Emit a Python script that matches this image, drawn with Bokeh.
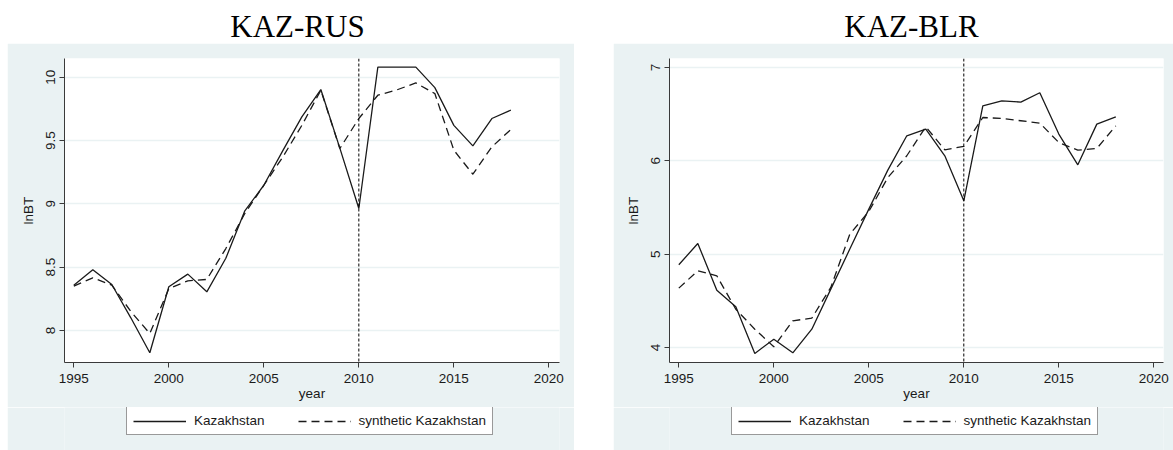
from bokeh.plotting import figure
from bokeh.models import Span, Legend, LegendItem, FixedTicker, Range1d, Spacer
from bokeh.layouts import row, column
from bokeh.embed import file_html
from bokeh.resources import INLINE
from bokeh.core.properties import value

# ---------------- data ----------------
years = list(range(1995, 2019))

rus_kazakhstan = [8.358, 8.48, 8.363, 8.10, 7.824, 8.345, 8.445, 8.305, 8.57, 8.945,
                  9.147, 9.42, 9.687, 9.903, 9.44, 8.963, 10.08, 10.08, 10.08, 9.918,
                  9.62, 9.458, 9.674, 9.74]
rus_synthetic = [8.35, 8.416, 8.358, 8.15, 7.976, 8.33, 8.392, 8.403, 8.647, 8.924,
                 9.147, 9.37, 9.62, 9.897, 9.437, 9.674, 9.858, 9.90, 9.955, 9.871,
                 9.424, 9.234, 9.45, 9.587]

blr_kazakhstan = [4.886, 5.114, 4.614, 4.436, 3.936, 4.089, 3.943, 4.196, 4.625, 5.054,
                  5.482, 5.90, 6.268, 6.339, 6.054, 5.571, 6.589, 6.643, 6.629, 6.729,
                  6.286, 5.957, 6.393, 6.471]
blr_synthetic = [4.636, 4.821, 4.768, 4.41, 4.196, 4.007, 4.286, 4.314, 4.643, 5.214,
                 5.457, 5.82, 6.054, 6.364, 6.118, 6.154, 6.464, 6.454, 6.429, 6.404,
                 6.196, 6.114, 6.132, 6.375]

x_ticks = [1995, 2000, 2005, 2010, 2015, 2020]
rus_y_ticks = [8, 8.5, 9, 9.5, 10]
rus_y_labels = ["8", "8.5", "9", "9.5", "10"]
blr_y_ticks = [4, 5, 6, 7]
blr_y_labels = ["4", "5", "6", "7"]
treatment_year = 2010
titles = ["KAZ-RUS", "KAZ-BLR"]
series_labels = ["Kazakhstan", "synthetic Kazakhstan"]
x_label = "year"
y_label = "lnBT"

# ---------------- style ----------------
BG = "#EAF2F3"
INK = "#1a1a1a"
AX = "#3a3a3a"
FONT = "Liberation Sans"
FS = "13.5px"
SOLID = dict(line_color=INK, line_width=1.3)
DASHED = dict(line_color=INK, line_width=1.3, line_dash="8 5")
NAN = float("nan")


def panel(kaz, syn, xr, yr, yticks, ylabels, width, bl, br, legend_x):
    p = figure(width=width, height=364, x_range=Range1d(*xr), y_range=Range1d(*yr),
               toolbar_location=None, output_backend="svg",
               min_border_left=bl, min_border_right=br, min_border_top=15,
               min_border_bottom=45, background_fill_color="white",
               border_fill_color=BG, outline_line_color=None)
    p.xgrid.visible = False
    p.ygrid.grid_line_color = BG
    p.ygrid.grid_line_width = 1.5

    p.xaxis.ticker = FixedTicker(ticks=x_ticks)
    p.yaxis.ticker = FixedTicker(ticks=yticks)
    p.yaxis.major_label_overrides = dict(zip(yticks, ylabels))
    p.yaxis.major_label_orientation = "vertical"

    for ax in (p.xaxis[0], p.yaxis[0]):
        ax.axis_line_color = AX
        ax.major_tick_line_color = AX
        ax.major_tick_out = 5
        ax.major_tick_in = 0
        ax.minor_tick_out = 0
        ax.minor_tick_in = 0
        ax.major_label_text_font = FONT
        ax.major_label_text_font_size = FS
        ax.major_label_text_color = INK
        ax.axis_label_text_font = FONT
        ax.axis_label_text_font_size = FS
        ax.axis_label_text_font_style = "normal"
        ax.axis_label_text_color = INK
    p.xaxis.axis_label = x_label
    p.yaxis.axis_label = y_label
    p.xaxis.major_label_standoff = 6
    p.xaxis.axis_label_standoff = 0
    p.yaxis.major_label_standoff = 4
    p.yaxis.axis_label_standoff = 8

    p.add_layout(Span(location=treatment_year, dimension="height", line_color="black",
                      line_width=1, line_dash="3 2"))

    p.line(years, kaz, **SOLID)
    p.line(years, syn, **DASHED)

    # legend strip below the graph (own canvas so the box is not clipped)
    lf = figure(width=width, height=43, x_range=Range1d(0, 1), y_range=Range1d(0, 1),
                toolbar_location=None, output_backend="svg",
                min_border_left=bl, min_border_right=br, min_border_top=0,
                min_border_bottom=0,
                x_axis_location=None, y_axis_location=None, outline_line_color=None,
                background_fill_color=BG, border_fill_color=BG)
    lf.grid.visible = False
    k1 = lf.line(x=[NAN], y=[NAN], **SOLID)
    k2 = lf.line(x=[NAN], y=[NAN], **DASHED)
    leg = Legend(items=[LegendItem(label=series_labels[0], renderers=[k1]),
                        LegendItem(label=series_labels[1], renderers=[k2])],
                 orientation="horizontal", location=(legend_x, 15),
                 glyph_width=53, glyph_height=14, label_height=14, label_standoff=8,
                 spacing=33, padding=6, margin=0,
                 border_line_color="#333333", border_line_width=1,
                 background_fill_color="white", background_fill_alpha=1.0,
                 label_text_font=FONT, label_text_font_size=FS,
                 label_text_color=INK)
    lf.add_layout(leg, "center")
    return column(p, lf)


c1 = panel(rus_kazakhstan, rus_synthetic, (1994.51, 2020.56), (7.747, 10.148),
           rus_y_ticks, rus_y_labels, 567, 57, 15, 62)
c2 = panel(blr_kazakhstan, blr_synthetic, (1994.51, 2020.51), (3.839, 7.096),
           blr_y_ticks, blr_y_labels, 560, 56, 10, 62)

t = figure(width=1173, height=43, x_range=Range1d(0, 1173), y_range=Range1d(0, 43),
           toolbar_location=None, output_backend="svg", min_border=0,
           x_axis_location=None, y_axis_location=None, outline_line_color=None,
           background_fill_color="white", border_fill_color="white")
t.grid.visible = False
t.text(x=[297, 911], y=[17.5, 17.5], text=titles, text_font=value("Liberation Serif"),
       text_font_size="31px", text_align="center", text_baseline="middle",
       text_color="black")

layout = column(t, row(Spacer(width=7, height=407), c1, Spacer(width=39, height=407), c2))

open("out.html", "w").write(file_html(layout, INLINE))
